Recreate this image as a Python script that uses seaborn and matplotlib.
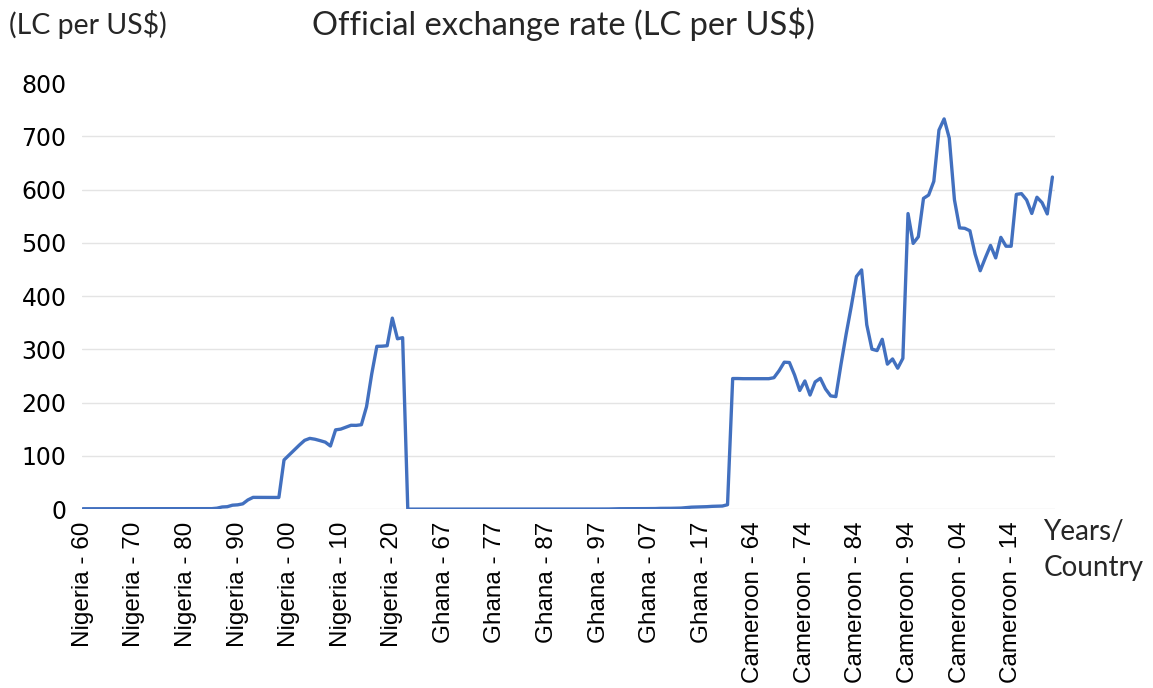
import numpy as np
import pandas as pd
import seaborn as sns
import matplotlib.pyplot as plt

sns.set_theme(style='white')

years = list(range(1960, 2023))
countries = ['Nigeria', 'Ghana', 'Cameroon']

# official exchange rate, LC per US$
nigeria = [0.714] * 13 + [
    0.658, 0.630, 0.616, 0.627, 0.645, 0.635, 0.604, 0.547, 0.618, 0.673,
    0.724, 0.767, 0.894, 1.755, 4.016, 4.537, 7.365, 8.038, 9.909, 17.298,
    22.065, 21.996, 21.895, 21.884, 21.886, 21.886, 92.338, 101.697, 111.231, 120.578,
    129.222, 132.888, 131.274, 128.652, 125.808, 118.546, 148.902, 150.298, 153.862, 157.499,
    157.311, 158.553, 192.440, 253.492, 305.790, 306.084, 306.921, 358.811, 320.0, 322.0]
ghana = [0.00007] * 7 + [
    0.00009, 0.0001, 0.0001, 0.0001, 0.0001, 0.00013, 0.00012, 0.00012, 0.00012, 0.00012,
    0.00012, 0.00015, 0.00028, 0.00028, 0.00028, 0.00028, 0.0009, 0.0036, 0.0054, 0.0089,
    0.0154, 0.0202, 0.027, 0.0326, 0.0368, 0.0437, 0.065, 0.0957, 0.12, 0.164,
    0.205, 0.231, 0.267, 0.545, 0.717, 0.793, 0.867, 0.899, 0.906, 0.916,
    0.935, 1.058, 1.409, 1.431, 1.512, 1.796, 1.954, 2.9, 3.668, 3.909,
    4.351, 4.585, 5.217, 5.596, 5.806, 8.272]
cameroon = [
    245.3, 245.3, 245.0, 245.0, 245.0, 245.0, 245.0, 245.0, 246.9, 260.0,
    276.0, 275.4, 252.0, 222.9, 240.7, 214.3, 239.0, 245.7, 225.7, 212.7,
    211.3, 271.7, 328.6, 381.1, 437.0, 449.3, 346.3, 300.5, 297.8, 319.0,
    272.3, 282.1, 264.7, 283.2, 555.2, 499.2, 511.6, 583.7, 590.0, 615.7,
    712.0, 733.0, 697.0, 581.2, 528.3, 527.5, 522.9, 479.3, 447.8, 472.2,
    495.3, 471.9, 510.5, 493.9, 493.8, 591.2, 592.6, 580.7, 555.4, 585.9,
    575.6, 554.5, 623.8]

rates = nigeria + ghana + cameroon
labels = [f'{c} - {y % 100:02d}' for c in countries for y in years]
df = pd.DataFrame({'pos': np.arange(len(rates)), 'rate': rates, 'label': labels})

fig, ax = plt.subplots(figsize=(11.53, 6.88), dpi=100)
fig.subplots_adjust(left=0.071, right=0.915, bottom=0.26, top=0.879)

sns.lineplot(data=df, x='pos', y='rate', ax=ax, color='#4270BF', linewidth=2.4)

ax.set_xlim(-0.2, len(rates) - 0.5)
ax.set_ylim(0, 800)
ax.set_yticks(range(0, 801, 100))
ax.set_xticks(df['pos'][::10])
ax.set_xticklabels(df['label'][::10], rotation=90, family='Liberation Sans', fontsize=17.5)
for t in ax.get_yticklabels():
    t.set_family('DejaVu Sans')
    t.set_fontsize(17)
ax.tick_params(axis='x', pad=9, length=0, colors='black')
ax.tick_params(axis='y', pad=11, length=0, colors='black')

# vertical gridlines every 20 categories
ax.set_xticks(df['pos'][20::20], minor=True)
ax.grid(axis='y', color='#E4E4E4', linewidth=1)
ax.grid(axis='x', which='minor', color='#E4E4E4', linewidth=1)
ax.get_ygridlines()[-1].set_visible(False)
for s in ax.spines.values():
    s.set_visible(False)
ax.set_xlabel('')
ax.set_ylabel('')

fig.text(0.271, 0.965, 'Official exchange rate (LC per US$)', family='Lato', fontsize=23.5,
         ha='left', va='center')
fig.text(0.008, 0.965, '(LC per US$)', family='Lato', fontsize=20.5, ha='left', va='center')
fig.text(0.905, 0.245, 'Years/\nCountry', family='Lato', fontsize=20, ha='left', va='top',
         linespacing=1.45)

plt.savefig('out.png', dpi=100)
